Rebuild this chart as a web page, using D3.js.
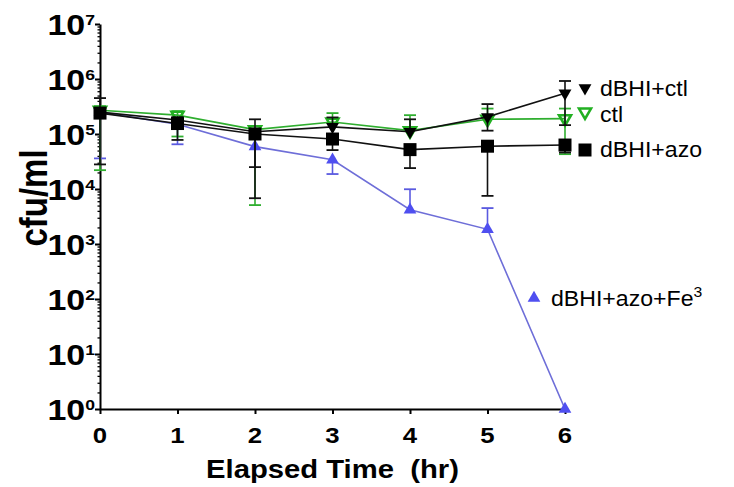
<!DOCTYPE html>
<html>
<head>
<meta charset="utf-8">
<script src="https://cdn.jsdelivr.net/npm/d3@7"></script>
<style>
body { margin: 0; background: #fff; }
svg { display: block; }
text { font-family: "Liberation Sans", Arial, sans-serif; fill: #000; }
</style>
</head>
<body>
<script>
// values (cfu/ml), null = bar side not visible
var hours = [0, 1, 2, 3, 4, 5, 6];

var dbhiCtl   = [2.5e5, 1.8e5, 1.1e5, 1.35e5, 1.1e5, 2.05e5, 5.5e5];
var dbhiCtlHi = [4.5e5, null, 1.85e5, 2.0e5, 1.85e5, 3.5e5, 9.2e5];
var dbhiCtlLo = [2.8e4, 7.8e4, 2.5e4, null, null, 1.15e5, 1.45e5];

var ctl   = [2.7e5, 2.2e5, 1.2e5, 1.65e5, 1.15e5, 1.85e5, 1.9e5];
var ctlHi = [3.2e5, 2.6e5, null, 2.4e5, 2.2e5, 2.9e5, 2.9e5];
var ctlLo = [2.2e4, 9.0e4, 5.1e3, null, null, null, 4.3e4];

var dbhiAzo   = [2.4e5, 1.55e5, 1.0e5, 8.1e4, 5.2e4, 6.0e4, 6.3e4];
var dbhiAzoHi = [null, null, null, null, null, null, null];
var dbhiAzoLo = [null, null, 6.8e3, 5.1e4, 2.4e4, 7.5e3, 4.6e4];

var azoFe   = [2.5e5, 1.5e5, 5.9e4, 3.4e4, 4.2e3, 1.85e3, 1];
var azoFeHi = [null, null, null, null, 9.9e3, 4.5e3, null];
var azoFeLo = [3.6e4, 6.5e4, null, 1.87e4, null, null, null];

var decades = [0, 1, 2, 3, 4, 5, 6, 7];

var width = 734, height = 487;
var sx = 1.17; // the figure's lettering is stretched sideways

var svg = d3.select("body").append("svg")
    .attr("width", width)
    .attr("height", height);

var x = d3.scaleLinear().domain([0, 6]).range([100, 565]);
var y = d3.scaleLog().domain([1, 1e7]).range([409, 24]);

function label(txt, px, py, size, anchor, weight, stretch) {
    return svg.append("text")
        .attr("transform", "translate(" + px + "," + py + ") scale(" + (stretch || 1) + ",1)")
        .attr("text-anchor", anchor)
        .style("font-size", size + "px")
        .style("font-weight", weight)
        .style("white-space", "pre")
        .text(txt);
}

// minor log ticks
var minors = [];
decades.slice(0, 7).forEach(function (k) {
    for (var m = 2; m <= 9; m++) minors.push(m * Math.pow(10, k));
});
svg.append("g")
    .attr("transform", "translate(100,0)")
    .call(d3.axisLeft(y).tickValues(minors).tickSize(2.5).tickSizeOuter(0).tickFormat(""))
    .call(function (g) { g.select(".domain").remove(); })
    .selectAll("line").attr("stroke-width", 1.3);

svg.append("g")
    .attr("transform", "translate(100,0)")
    .call(d3.axisLeft(y).tickValues(decades.map(function (k) { return Math.pow(10, k); }))
        .tickSize(5).tickSizeOuter(0).tickFormat(""))
    .call(function (g) {
        g.select(".domain").attr("stroke-width", 2);
        g.selectAll("line").attr("stroke-width", 2);
    });

svg.append("g")
    .attr("transform", "translate(0,409)")
    .call(d3.axisBottom(x).tickValues(hours).tickSize(5).tickSizeOuter(0).tickFormat(""))
    .call(function (g) {
        g.select(".domain").attr("stroke-width", 2);
        g.selectAll("line").attr("stroke-width", 2);
    });

// y tick labels 10^k
decades.forEach(function (k) {
    var t = label("", 95, y(Math.pow(10, k)) + 11, 29, "end", "bold", sx);
    t.append("tspan").text("10");
    t.append("tspan").attr("dy", -10).style("font-size", "15px").text(k);
});

hours.forEach(function (h) {
    label(String(h), x(h), 443, 22, "middle", "bold", sx);
});

label("Elapsed Time  (hr)", x(3), 478, 25, "middle", "bold", sx);

svg.append("text")
    .attr("transform", "translate(47,198) rotate(-90) scale(1," + sx + ")")
    .attr("text-anchor", "middle")
    .style("font-size", "33px")
    .style("font-weight", "bold")
    .text("cfu/ml");

var series = [
    { vals: azoFe, hi: azoFeHi, lo: azoFeLo, line: "#6e6ed8", bar: "#5a5ae0", mark: "triUp", fill: "#4f4ff0" },
    { vals: ctl, hi: ctlHi, lo: ctlLo, line: "#2fae2f", bar: "#2fae2f", mark: "triDownOpen", fill: "#22b022" },
    { vals: dbhiCtl, hi: dbhiCtlHi, lo: dbhiCtlLo, line: "#111", bar: "#111", mark: "triDown", fill: "#000" },
    { vals: dbhiAzo, hi: dbhiAzoHi, lo: dbhiAzoLo, line: "#111", bar: "#111", mark: "square", fill: "#000" }
];

function drawMark(g, kind, cx, cy, color) {
    if (kind === "square") {
        g.append("rect").attr("x", cx - 6.5).attr("y", cy - 6.5)
            .attr("width", 13).attr("height", 13).attr("fill", color);
    } else if (kind === "triUp") {
        g.append("path").attr("d", d3.symbol(d3.symbolTriangle, 70)())
            .attr("transform", "translate(" + cx + "," + cy + ")")
            .attr("fill", color);
    } else if (kind === "triDown") {
        g.append("path").attr("d", d3.symbol(d3.symbolTriangle, 72)())
            .attr("transform", "translate(" + cx + "," + cy + ") rotate(180)")
            .attr("fill", color);
    } else {
        g.append("path").attr("d", d3.symbol(d3.symbolTriangle, 62)())
            .attr("transform", "translate(" + cx + "," + cy + ") rotate(180)")
            .attr("fill", "none").attr("stroke", color).attr("stroke-width", 2.6);
    }
}

var line = d3.line()
    .x(function (d, i) { return x(hours[i]); })
    .y(function (d) { return y(d); });

series.forEach(function (s) {
    var g = svg.append("g");
    g.append("path")
        .attr("d", line(s.vals))
        .attr("fill", "none")
        .attr("stroke", s.line)
        .attr("stroke-width", 1.6);
    s.vals.forEach(function (v, i) {
        var cx = x(hours[i]);
        [s.hi[i], s.lo[i]].forEach(function (e) {
            if (e === null) return;
            g.append("line").attr("x1", cx).attr("x2", cx)
                .attr("y1", y(v)).attr("y2", y(e))
                .attr("stroke", s.bar).attr("stroke-width", 1.6);
            g.append("line").attr("x1", cx - 6).attr("x2", cx + 6)
                .attr("y1", y(e)).attr("y2", y(e))
                .attr("stroke", s.bar).attr("stroke-width", 1.8);
        });
    });
    s.vals.forEach(function (v, i) {
        drawMark(g, s.mark, x(hours[i]), y(v), s.fill);
    });
});

// legend
var leg = svg.append("g");
drawMark(leg, "triDown", 585, 88, "#000");
label("dBHI+ctl", 600, 96, 22, "start", "normal", 1.05);
drawMark(leg, "triDownOpen", 585, 112, "#22b022");
label("ctl", 600, 122, 22, "start", "normal", 1.05);
drawMark(leg, "square", 585, 150, "#000");
label("dBHI+azo", 600, 157, 22, "start", "normal", 1.05);
drawMark(leg, "triUp", 534, 298, "#4f4ff0");
var fe = label("", 551, 306, 22, "start", "normal", 1.05);
fe.append("tspan").text("dBHI+azo+Fe");
fe.append("tspan").attr("dy", -9).style("font-size", "15px").text("3");
</script>
</body>
</html>
